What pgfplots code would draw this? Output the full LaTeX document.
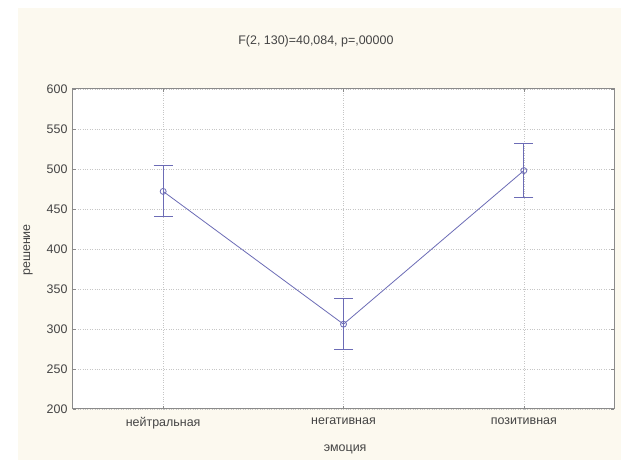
\documentclass[border=0pt]{standalone}
\usepackage{fontspec}
\setmainfont{Liberation Sans}
\usepackage{pgfplots}
\pgfplotsset{compat=1.18}
\definecolor{cream}{HTML}{FCF9EF}
\definecolor{series}{HTML}{6C6CB6}
\definecolor{txt}{HTML}{444444}
\definecolor{frame}{HTML}{8A8A8A}
\begin{document}
\begin{tikzpicture}[x=1bp,y=1bp]
  \fill[white] (-73,-51) rectangle (554,409);
  \fill[cream] (-55,-51) rectangle (548,401);
  \useasboundingbox (-73,-51) rectangle (554,409);
  \begin{axis}[
      at={(0,0)}, anchor=south west,
      scale only axis,
      width=541bp, height=320bp,
      axis background/.style={fill=white},
      xmin=-0.5, xmax=2.5,
      ymin=200, ymax=600,
      xtick={0,1,2},
      xticklabels={нейтральная,негативная,позитивная},
      ytick={200,250,...,600},
      grid=major,
      grid style={gray!45, dotted, line width=0.6bp},
      axis line style={frame, line width=1bp},
      tick style={frame, line width=0.6bp},
      tick align=inside,
      major tick length=3bp,
      font=\fontsize{12.5}{14}\selectfont,
      ticklabel style={text=txt},
      xticklabel style={yshift=-5bp},
      yticklabel style={xshift=-2bp},
      /pgf/number format/assume math mode=true,
      title={F(2, 130)=40,084, p=,00000},
      title style={at={(0.449,1.131)}, anchor=center, text=txt},
      xlabel={эмоция},
      xlabel style={at={(0.503,-0.127)}, anchor=center, text=txt},
      ylabel={решение},
      ylabel style={at={(-0.083,0.497)}, anchor=center, text=txt},
    ]
    \addplot[
      color=series, line width=0.8bp,
      mark=o, mark size=3bp,
      mark options={fill=white, solid},
      error bars/.cd, y dir=both, y explicit,
      error bar style={color=series, line width=1bp},
      error mark options={rotate=90, color=series, mark size=9.5bp, line width=1bp},
    ] coordinates {
      (0,472) +- (0,32)
      (1,306) +- (0,32)
      (2,498) +- (0,34)
    };
  \end{axis}
\end{tikzpicture}
\end{document}
